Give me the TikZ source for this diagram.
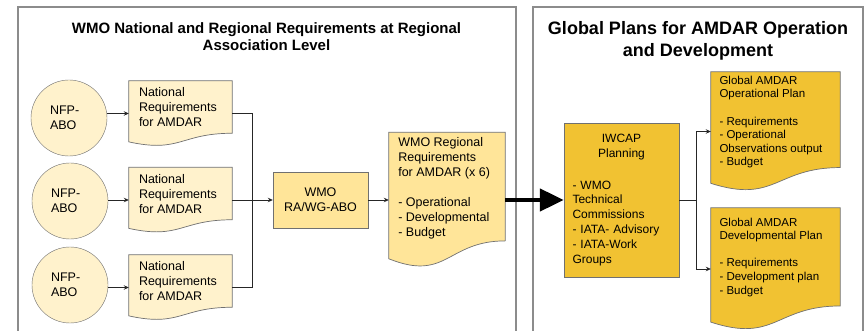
\documentclass[tikz,border=0pt]{standalone}
\usepackage{fontspec}
\setmainfont{Liberation Sans}
\usetikzlibrary{arrows.meta,calc,backgrounds}
\definecolor{natfill}{HTML}{FFF2CC}
\definecolor{rafill}{HTML}{FFE599}
\definecolor{gold}{HTML}{F1C232}
\definecolor{frame}{HTML}{8C8C8C}
\definecolor{edge}{HTML}{707070}

\begin{document}
\begin{tikzpicture}[x=1pt,y=-1pt,
  bodyfont/.style={font=\fontsize{12.5}{15}\selectfont},
  planfont/.style={font=\fontsize{11.5}{13.6}\selectfont},
  nfpnode/.style={circle,draw=edge,fill=natfill,minimum size=76pt,inner sep=0pt,
    text width=38pt,align=left,bodyfont},
  docnode/.style={rectangle,inner sep=0pt,minimum width=#1},
  doctext/.style={anchor=north west,align=left,inner xsep=10pt,bodyfont},
  plainbox/.style={rectangle,draw=edge,inner sep=0pt},
  conn/.style={draw=black!85,line width=0.8pt},
  headarrow/.style={-{Stealth[length=5pt,width=4.5pt]}},
  ttl/.style={anchor=north,align=center,inner sep=0pt}
]
  \useasboundingbox (0,0) rectangle (865,331);

  % Left panel: national and regional level
  \draw[frame,line width=1.3pt] (18,331) -- (18,7) -- (516,7) -- (516,331);
  \node[ttl,font=\bfseries\fontsize{15}{17}\selectfont] (lefttitle) at (266.5,22.4)
    {WMO National and Regional Requirements at Regional\\Association Level};

  \node[nfpnode] (nfp1) at (69,118) {NFP-\\ABO};
  \node[nfpnode] (nfp2) at (70,201) {NFP-\\ABO};
  \node[nfpnode] (nfp3) at (70,285) {NFP-\\ABO};

  \node[docnode=103pt,minimum height=65pt,
    label={[doctext,inner ysep=6.5pt]north west:National\\Requirements\\for AMDAR}]
    (nat1) at (180.5,113.5) {};
  \node[docnode=103pt,minimum height=65pt,
    label={[doctext,inner ysep=6.5pt]north west:National\\Requirements\\for AMDAR}]
    (nat2) at (180.5,200) {};
  \node[docnode=103pt,minimum height=65pt,
    label={[doctext,inner ysep=6.5pt]north west:National\\Requirements\\for AMDAR}]
    (nat3) at (180.5,287.5) {};

  \node[plainbox,fill=rafill,minimum width=95pt,minimum height=56pt,align=center,bodyfont]
    (ra) at (320.5,200) {WMO\\RA/WG-ABO};

  \node[docnode=116pt,minimum height=135pt,
    label={[doctext,inner xsep=9.3pt,inner ysep=5pt]north west:WMO Regional\\Requirements\\for AMDAR (x 6)\\[15pt]- Operational\\- Developmental\\- Budget}]
    (regreq) at (447,200) {};

  % Right panel: global plans
  \draw[frame,line width=1.3pt] (533,331) -- (533,7) -- (863,7) -- (863,331);
  \node[ttl,font=\bfseries\fontsize{18}{22}\selectfont] (righttitle) at (698,21.6)
    {Global Plans for AMDAR Operation\\and Development};

  \node[plainbox,fill=gold,minimum width=115pt,minimum height=154pt,
    text width=98pt,align=left,font=\fontsize{12}{14.9}\selectfont]
    (iwcap) at (621.5,200)
    {{\centering IWCAP\\Planning\par}\vspace{17pt}- WMO\\Technical\\Commissions\\- IATA- Advisory\\- IATA-Work\\Groups};

  \node[docnode=129pt,minimum height=119pt,
    label={[doctext,planfont,inner xsep=8.5pt,inner ysep=4pt]north west:Global AMDAR\\Operational Plan\\[13.6pt]- Requirements\\- Operational\\Observations output\\- Budget}]
    (ops) at (775.5,131.5) {};
  \node[docnode=129pt,minimum height=122pt,
    label={[doctext,planfont,inner xsep=8.5pt,inner ysep=9.8pt]north west:Global AMDAR\\Developmental Plan\\[13.6pt]- Requirements\\- Development plan\\- Budget}]
    (dev) at (775.5,269) {};

  % Document outlines with wavy bottom edge
  \begin{scope}[on background layer]
    \fill[white] (0,0) rectangle (865,331);
    \foreach \docname/\docfill in {nat1/natfill,nat2/natfill,nat3/natfill,regreq/rafill,ops/gold,dev/gold}
      \filldraw[draw=edge,fill=\docfill,line width=0.7pt]
        (\docname.north west) -- (\docname.north east)
        -- ($(\docname.north east)!0.802!(\docname.south east)$)
        .. controls ($(\docname.north)!0.802!(\docname.south)$) and ($(\docname.north)!1.107!(\docname.south)$)
        .. ($(\docname.north west)!0.934!(\docname.south west)$) -- cycle;
  \end{scope}

  % Connectors
  \draw[conn,headarrow] (nfp1.east |- nat1) -- (nat1.west);
  \draw[conn,headarrow] (nfp2.east |- nat2) -- (nat2.west);
  \draw[conn,headarrow] (nfp3.east |- nat3) -- (nat3.west);

  \coordinate (merge) at (252,200);
  \draw[conn] (nat1.east) -| (merge);
  \draw[conn] (nat3.east) -| (merge);
  \draw[conn,headarrow] (nat2.east) -- (ra.west);
  \draw[conn,headarrow] (ra.east) -- (regreq.west);

  \draw[line width=4.5pt,-{Triangle[length=24pt,width=22pt]}] (regreq.east) -- (iwcap.west);

  \draw[conn,headarrow] (iwcap.east) -- ++(17,0) |- (ops.west);
  \draw[conn,headarrow] (iwcap.east) -- ++(17,0) |- (dev.west);
\end{tikzpicture}
\end{document}
